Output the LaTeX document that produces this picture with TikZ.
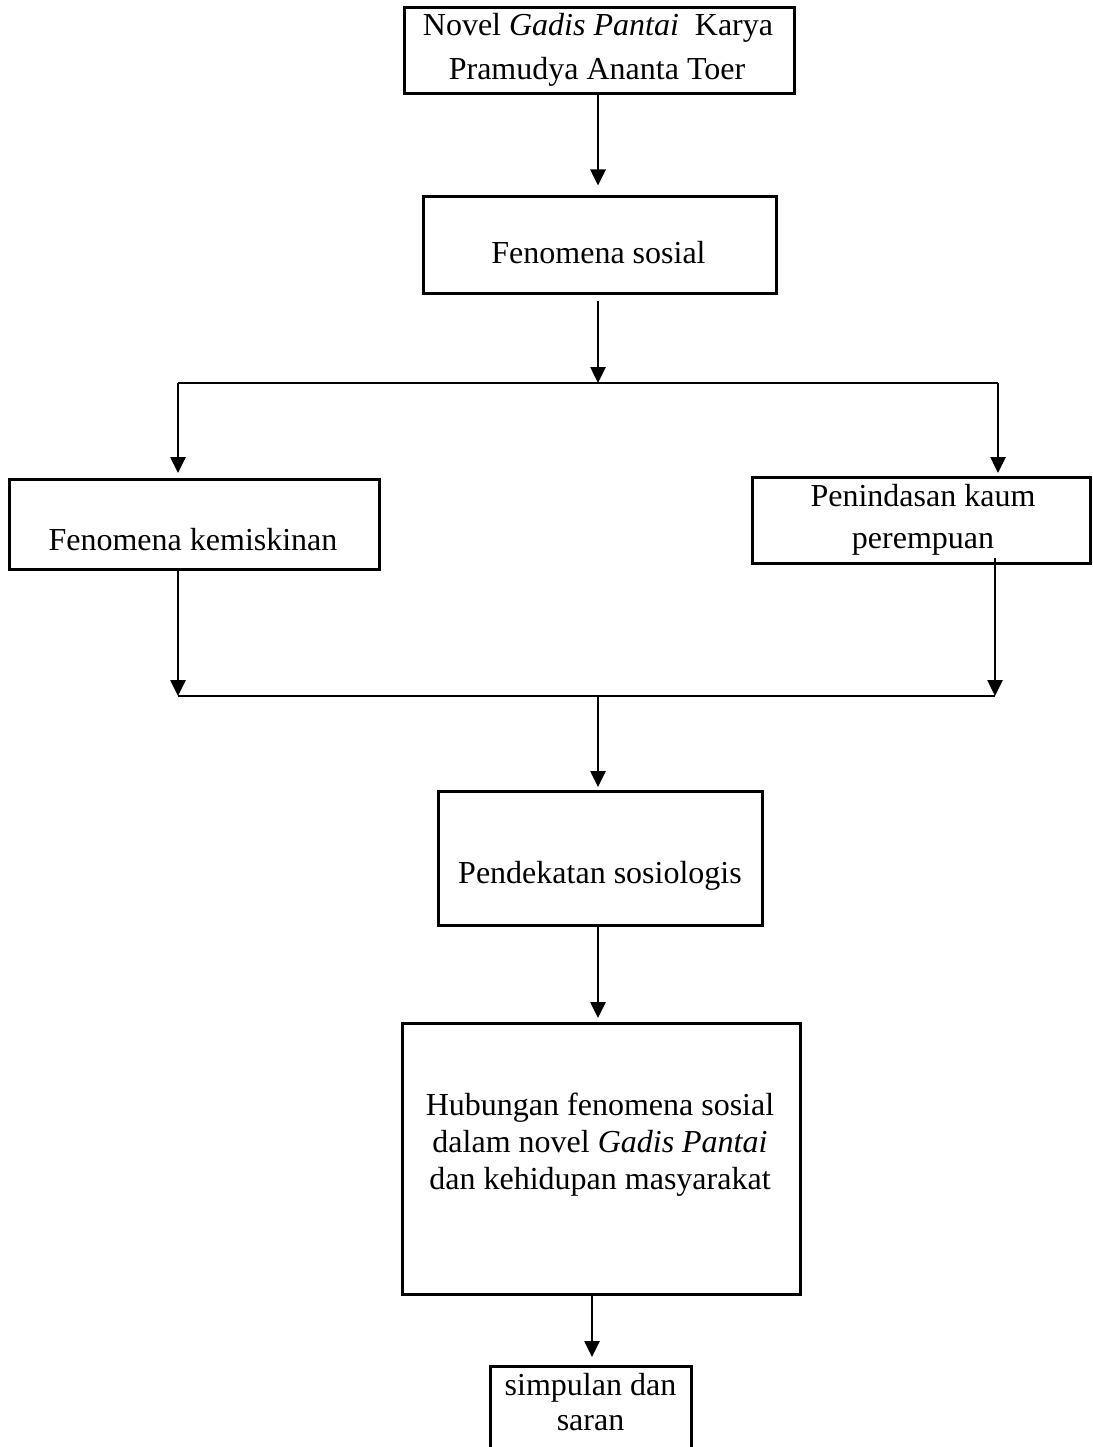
\documentclass[tikz,border=0pt]{standalone}
\usepackage{fontspec}
\setmainfont{Liberation Serif}
\usetikzlibrary{arrows.meta}
\begin{document}
\begin{tikzpicture}[x=1pt,y=-1pt,
  box/.style={draw, line width=3pt, inner sep=0pt, minimum width=#1},
  lbl/.style={anchor=base, inner sep=0pt, font=\fontsize{32}{36.8}\selectfont},
  arr/.style={line width=2.6pt, -{Triangle[length=16pt,width=15pt]}},
  hline/.style={line width=2pt}]
\useasboundingbox (0,0) rectangle (1092,1447);
\fill[white] (0,0) rectangle (1092,1447);

% boxes
\node[box=390pt, minimum height=86pt] (b1) at (599,51) {};
\node[box=353pt, minimum height=96pt] (b2) at (599.5,245) {};
\node[box=370pt, minimum height=90pt] (b3) at (194,524) {};
\node[box=338pt, minimum height=86pt] (b4) at (921,520) {};
\node[box=324pt, minimum height=134pt] (b5) at (600,858) {};
\node[box=398pt, minimum height=271pt] (b6) at (601,1158.5) {};
\node[box=201pt, minimum height=100pt] (b7) at (590.5,1416) {};

% texts
\node[lbl] (t1a) at (598,36) {Novel \textit{Gadis Pantai}\ \ Karya};
\node[lbl] (t1b) at (597,80) {Pramudya Ananta Toer};
\node[lbl] (t2) at (598.5,263) {Fenomena sosial};
\node[lbl] (t3) at (193,550) {Fenomena kemiskinan};
\node[lbl] (t4a) at (923,506) {Penindasan kaum};
\node[lbl] (t4b) at (923,548) {perempuan};
\node[lbl] (t5) at (600,883) {Pendekatan sosiologis};
\node[lbl] (t6a) at (600,1115) {Hubungan fenomena sosial};
\node[lbl] (t6b) at (600,1152) {dalam novel \textit{Gadis Pantai}};
\node[lbl] (t6c) at (600,1189) {dan kehidupan masyarakat};
\node[lbl] (t7a) at (590.5,1395) {simpulan dan};
\node[lbl] (t7b) at (590.5,1430) {saran};

% junction coordinates
\coordinate (s1) at (598,301);
\coordinate (j1) at (598,383);
\coordinate (jl) at (178,383);
\coordinate (jr) at (998,383);
\coordinate (tl) at (178,473);
\coordinate (tr) at (998,473);
\coordinate (l3) at (178,569);
\coordinate (r4) at (995,558);
\coordinate (bl) at (178,696);
\coordinate (br) at (995,696);
\coordinate (jm) at (598,696);
\coordinate (t5top) at (598,787);
\coordinate (s5) at (598,927);
\coordinate (t6top) at (598,1018);
\coordinate (s6) at (592,1295);
\coordinate (t7top) at (592,1357);

% connectors
\draw[arr] (b1.south -| j1) -- ([yshift=10pt]b2.north -| j1);
\draw[arr] (s1) -- (j1);
\draw[hline] (jl) -- (jr);
\draw[arr] (jl) -- (tl);
\draw[arr] (jr) -- (tr);
\draw[arr] (l3) -- (bl);
\draw[arr] (r4) -- (br);
\draw[hline] (bl) -- (br);
\draw[arr] (jm) -- (t5top);
\draw[arr] (s5) -- (t6top);
\draw[arr] (s6) -- (t7top);
\end{tikzpicture}
\end{document}
